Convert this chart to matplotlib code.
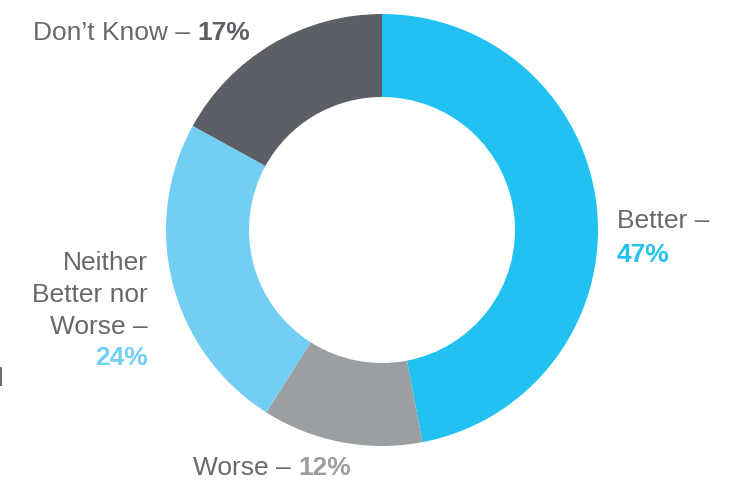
import matplotlib
matplotlib.use("Agg")
import matplotlib.pyplot as plt

categories = ["Better", "Worse", "Neither Better nor Worse", "Don\u2019t Know"]
values = [47, 12, 24, 17]
colors = ["#21C2F1", "#9B9FA2", "#72CEF3", "#5C6066"]

W, H = 737, 482
fig = plt.figure(figsize=(W / 100, H / 100), dpi=100)
ax = fig.add_axes([0, 0, 1, 1])

cx, cy, R = 382, H - 230, 216
ax.pie(values, colors=colors, startangle=90, counterclock=False,
       center=(cx, cy), radius=R, wedgeprops=dict(width=R - 133, linewidth=0),
       frame=True)
ax.set_xlim(0, W)
ax.set_ylim(0, H)
ax.set_aspect("equal")
ax.axis("off")

txt = "#67696C"
fs = 19
fam = ["Liberation Sans", "DejaVu Sans"]

def y(px):
    return H - px

# small stray mark at left edge
ax.plot([1, 1], [y(367), y(386)], color="#6D6E71", lw=1.5, solid_capstyle="butt")

fig.canvas.draw()
r = fig.canvas.get_renderer()

def pair(x, ypx, a, b, bcolor):
    t1 = ax.text(x, y(ypx), a, fontsize=fs, family=fam, color=txt, va="baseline", ha="left")
    bb = t1.get_window_extent(renderer=r)
    ax.text(bb.x1, y(ypx), b, fontsize=fs, family=fam, color=bcolor, fontweight="bold",
            va="baseline", ha="left")

pair(33, 40, "Don\u2019t Know \u2013 ", "17%", colors[3])
pair(193, 475, "Worse \u2013 ", "12%", colors[1])

ax.text(617, y(228), "Better \u2013", fontsize=fs, family=fam, color=txt, va="baseline", ha="left")
ax.text(617, y(262), "47%", fontsize=fs, family=fam, color=colors[0], fontweight="bold",
        va="baseline", ha="left")

for i, line in enumerate(["Neither", "Better nor", "Worse \u2013"]):
    ax.text(148, y(270 + 32 * i), line, fontsize=fs, family=fam, color=txt,
            va="baseline", ha="right")
ax.text(148, y(365), "24%", fontsize=fs, family=fam, color=colors[2], fontweight="bold",
        va="baseline", ha="right")

fig.savefig("out.png", dpi=100)
